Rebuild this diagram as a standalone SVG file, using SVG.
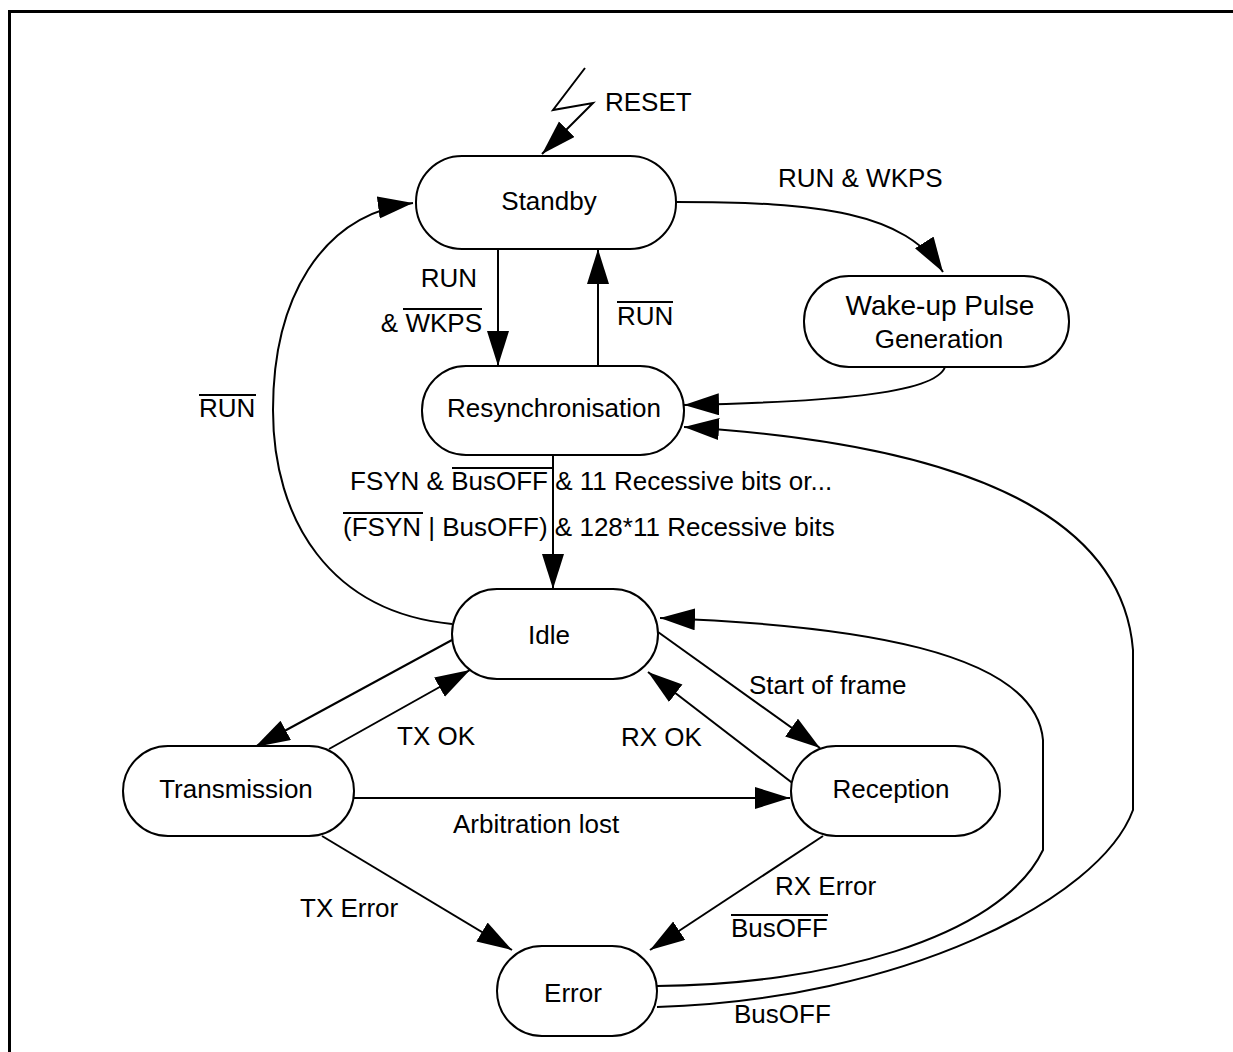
<svg xmlns="http://www.w3.org/2000/svg" width="1233" height="1052" viewBox="0 0 1233 1052">
<defs>
<marker id="ah" markerUnits="userSpaceOnUse" markerWidth="38" markerHeight="24" refX="35" refY="11" orient="auto">
<path d="M0,0 L35,11 L0,22 z" fill="#000"/>
</marker>
<style>
.n{fill:#fff;stroke:#000;stroke-width:2}
.t{font-family:"Liberation Sans",Arial,sans-serif;font-size:26px;fill:#000}
.c{text-anchor:middle}
.e{fill:none;stroke:#000;stroke-width:2;marker-end:url(#ah)}
.ov{stroke:#000;stroke-width:2}
</style>
</defs>
<rect width="1233" height="1052" fill="#fff"/>
<path d="M9.5,1052 L9.5,11.5 L1233,11.5" fill="none" stroke="#000" stroke-width="3"/>

<g id="connectors">
<polyline class="e" points="585,68 553,110 593,103 542,154"/>
<path class="e" d="M676,202 C820,202 905,212 943,272"/>
<path class="e" d="M945,367 C935,395 820,402 684,405"/>
<path class="e" d="M657,1007 C900,1000 1100,900 1133,810 L1133,650 C1120,490 900,440 684,427"/>
<path class="e" d="M657,986 C820,985 1000,940 1043,850 L1043,740 C1035,650 850,625 660,618"/>
<path class="e" d="M498,249 L498,366"/>
<path class="e" d="M598,366 L598,249"/>
<path class="e" d="M452,624 C330,612 273,520 273,410 C273,300 320,215 413,203"/>
<path class="e" d="M553,455 L553,589"/>
<path class="e" d="M452,640 L255,747"/>
<path class="e" d="M329,749 L470,670"/>
<path class="e" d="M658,632 L820,748"/>
<path class="e" d="M795,785 L648,672"/>
<path class="e" d="M354,798 L790,798"/>
<path class="e" d="M322,836 L512,950"/>
<path class="e" d="M823,836 L650,950"/>
</g>

<g id="standby"><rect class="n" x="416" y="156" width="260" height="93" rx="46" ry="46"/><text class="t c" x="549" y="210">Standby</text></g>
<g id="wakeup"><rect class="n" x="804" y="276" width="265" height="91" rx="45" ry="45"/><text class="t c" x="940" y="315" style="font-size:28px">Wake-up Pulse</text><text class="t c" x="939" y="348">Generation</text></g>
<g id="resync"><rect class="n" x="422" y="366" width="262" height="89" rx="44" ry="44"/><text class="t c" x="554" y="417">Resynchronisation</text></g>
<g id="idle"><rect class="n" x="452" y="589" width="206" height="90" rx="45" ry="45"/><text class="t c" x="549" y="644">Idle</text></g>
<g id="transmission"><rect class="n" x="123" y="746" width="231" height="90" rx="45" ry="45"/><text class="t c" x="236" y="798">Transmission</text></g>
<g id="reception"><rect class="n" x="791" y="746" width="209" height="90" rx="45" ry="45"/><text class="t c" x="891" y="798">Reception</text></g>
<g id="error"><rect class="n" x="497" y="946" width="160" height="90" rx="45" ry="45"/><text class="t c" x="573" y="1002">Error</text></g>

<g id="labels">
<text class="t" x="605" y="111">RESET</text>
<text class="t" x="778" y="187">RUN &amp; WKPS</text>
<text class="t" x="477" y="287" text-anchor="end">RUN</text>
<text class="t" x="482" y="332" text-anchor="end">&amp; WKPS</text>
<line class="ov" x1="403" y1="309" x2="482" y2="309"/>
<text class="t" x="617" y="325">RUN</text>
<line class="ov" x1="617" y1="302" x2="673" y2="302"/>
<text class="t" x="199" y="417">RUN</text>
<line class="ov" x1="199" y1="395" x2="256" y2="395"/>
<text class="t" x="350" y="490">FSYN &amp; BusOFF &amp; 11 Recessive bits or...</text>
<line class="ov" x1="452" y1="468" x2="552" y2="468"/>
<text class="t" x="343" y="536">(FSYN | BusOFF) &amp; 128*11 Recessive bits</text>
<line class="ov" x1="343" y1="513" x2="423" y2="513"/>
<text class="t" x="397" y="745">TX OK</text>
<text class="t" x="621" y="746">RX OK</text>
<text class="t" x="749" y="694">Start of frame</text>
<text class="t" x="453" y="833">Arbitration lost</text>
<text class="t" x="300" y="917">TX Error</text>
<text class="t" x="775" y="895">RX Error</text>
<text class="t" x="731" y="937">BusOFF</text>
<line class="ov" x1="731" y1="915" x2="828" y2="915"/>
<text class="t" x="734" y="1023">BusOFF</text>
</g>
</svg>
